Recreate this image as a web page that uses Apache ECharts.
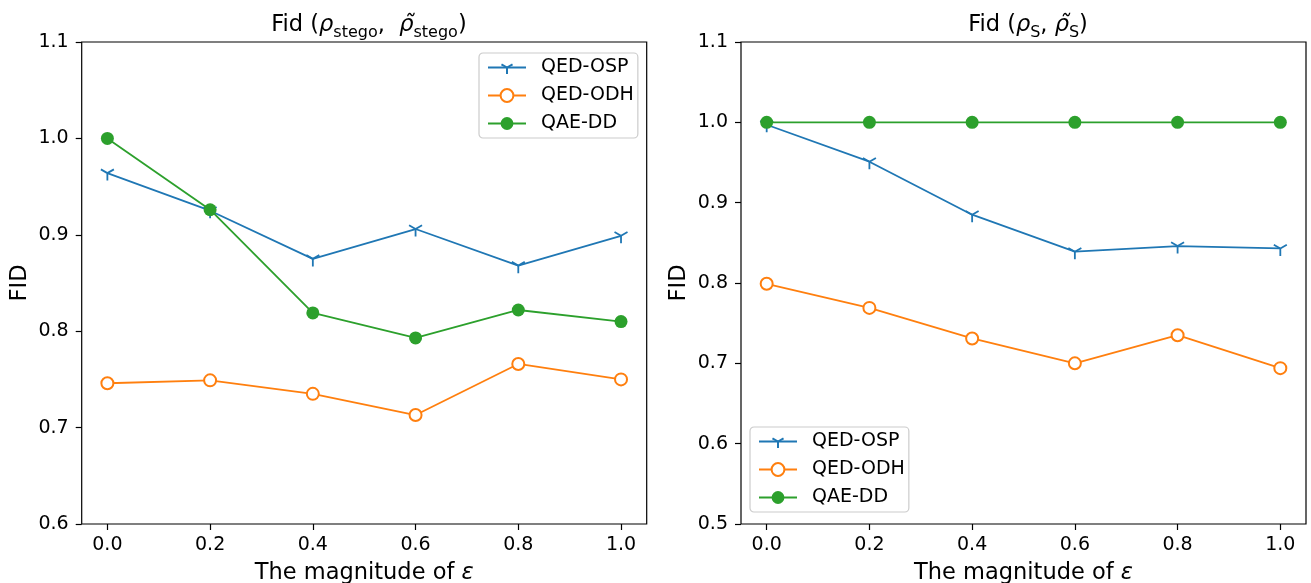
<!DOCTYPE html>
<html>
<head>
<meta charset="utf-8">
<script src="https://cdn.jsdelivr.net/npm/echarts@6/dist/echarts.min.js"></script>
<style>
html,body{margin:0;padding:0;background:#fff;}
#chart{width:1311px;height:583px;}
</style>
</head>
<body>
<div id="chart"></div>
<script>
// ---- data ----
const eps = [0.0, 0.2, 0.4, 0.6, 0.8, 1.0];
const xTicks = [0.0, 0.2, 0.4, 0.6, 0.8, 1.0];
const leftYTicks = [0.6, 0.7, 0.8, 0.9, 1.0, 1.1];
const rightYTicks = [0.5, 0.6, 0.7, 0.8, 0.9, 1.0, 1.1];
const seriesNames = ['QED-OSP', 'QED-ODH', 'QAE-DD'];
const leftOSP = [0.964, 0.925, 0.875, 0.906, 0.868, 0.899];
const leftODH = [0.746, 0.749, 0.735, 0.713, 0.766, 0.750];
const leftDD  = [1.000, 0.926, 0.819, 0.793, 0.822, 0.810];
const rightOSP = [0.997, 0.951, 0.885, 0.839, 0.846, 0.843];
const rightODH = [0.799, 0.769, 0.731, 0.700, 0.735, 0.694];
const rightDD  = [1.000, 1.000, 1.000, 1.000, 1.000, 1.000];

const FONT = 'DejaVu Sans';
const C = ['#1f77b4', '#ff7f0e', '#2ca02c'];
const TRI = 'path://M0,0L0,10M0,0L-8.66,-5M0,0L8.66,-5M-10,-10L-10,-10M10,10L10,10';

function pairs(ys) { return eps.map((x, i) => [x, ys[i]]); }

function mkSeries(name, ys, idx) {
  const k = seriesNames.indexOf(name);
  const base = {
    name: name, type: 'line', xAxisIndex: idx, yAxisIndex: idx,
    data: pairs(ys), animation: false, z: 2 + k,
    lineStyle: { color: C[k], width: 1.8 },
    emphasis: { disabled: true }
  };
  if (k === 0) {
    base.symbol = TRI; base.symbolSize = 15; base.symbolKeepAspect = true;
    base.itemStyle = { color: 'rgba(0,0,0,0)', borderColor: C[k], borderWidth: 1.8 };
  } else if (k === 1) {
    base.symbol = 'emptyCircle'; base.symbolSize = 12;
    base.itemStyle = { color: C[k], borderColor: C[k], borderWidth: 1.6 };
  } else {
    base.symbol = 'circle'; base.symbolSize = 13;
    base.itemStyle = { color: C[k], borderWidth: 0 };
  }
  return base;
}

function xAxisCfg(idx) {
  return {
    type: 'value', gridIndex: idx, min: -0.05, max: 1.05,
    axisLine: { show: false, onZero: false },
    axisTick: { show: true, customValues: xTicks, length: 6, lineStyle: { color: '#000', width: 1.2 } },
    axisLabel: { customValues: xTicks, formatter: v => v.toFixed(1), color: '#000', fontFamily: FONT, fontSize: 19, margin: 12 },
    splitLine: { show: false },
    name: 'The magnitude of {e|ε}', nameLocation: 'middle', nameGap: 38,
    nameTextStyle: { color: '#000', fontFamily: FONT, fontSize: 22.5,
      rich: { e: { fontFamily: FONT, fontStyle: 'italic', fontSize: 22.5, color: '#000' } } }
  };
}
function yAxisCfg(idx, ticks) {
  return {
    type: 'value', gridIndex: idx, min: ticks[0], max: ticks[ticks.length - 1], interval: 0.1,
    axisLine: { show: false, onZero: false },
    axisTick: { show: true, length: 6, lineStyle: { color: '#000', width: 1.2 } },
    axisLabel: { formatter: v => v.toFixed(1), color: '#000', fontFamily: FONT, fontSize: 19, margin: 13 },
    splitLine: { show: false },
    name: 'FID', nameLocation: 'middle', nameGap: 50, nameRotate: 90,
    nameTextStyle: { color: '#000', fontFamily: FONT, fontSize: 22.5 }
  };
}

const titleRich = {
  n: { fontFamily: FONT, fontSize: 22.5, fontWeight: 'normal', color: '#000' },
  r: { fontFamily: FONT, fontSize: 22.5, fontWeight: 'normal', fontStyle: 'italic', color: '#000' },
  s: { fontFamily: FONT, fontSize: 16, fontWeight: 'normal', color: '#000', verticalAlign: 'bottom', padding: [16, 0, 0, 0] }
};

function legendCfg(left, top) {
  return {
    data: seriesNames, orient: 'vertical', left: left, top: top,
    itemWidth: 38, itemHeight: 16, itemGap: 9,
    padding: [5, 4, 5, 8],
    backgroundColor: '#fff', borderColor: '#cccccc', borderWidth: 1.2, borderRadius: 4,
    textStyle: { fontFamily: FONT, fontSize: 19, color: '#000', padding: [0, 0, 0, 10] },
    selectedMode: false
  };
}

const chart = echarts.init(document.getElementById('chart'), null, { renderer: 'canvas' });
chart.setOption({
  backgroundColor: '#fff',
  animation: false,
  title: [
    { text: '{n|Fid (}{r|ρ}{s|stego}{n|,  }{r|ρ̃}{s|stego}{n|)}', left: 364, top: 4, textAlign: 'center',
      textStyle: { fontWeight: 'normal', rich: titleRich } },
    { text: '{n|Fid (}{r|ρ}{s|S}{n|, }{r|ρ̃}{s|S}{n|)}', left: 1023, top: 4, textAlign: 'center',
      textStyle: { fontWeight: 'normal', rich: titleRich } }
  ],
  grid: [
    { left: 81.7, right: 1311 - 646.7, top: 42, bottom: 583 - 524, show: true, borderColor: '#000', borderWidth: 1.2, backgroundColor: 'transparent', outerBoundsMode: 'none', containLabel: false },
    { left: 741, right: 1311 - 1306, top: 42, bottom: 583 - 524, show: true, borderColor: '#000', borderWidth: 1.2, backgroundColor: 'transparent', outerBoundsMode: 'none', containLabel: false }
  ],
  xAxis: [xAxisCfg(0), xAxisCfg(1)],
  yAxis: [yAxisCfg(0, leftYTicks), yAxisCfg(1, rightYTicks)],
  legend: [legendCfg(479, 53), legendCfg(750, 427)],
  series: [
    mkSeries('QED-OSP', leftOSP, 0),
    mkSeries('QED-ODH', leftODH, 0),
    mkSeries('QAE-DD', leftDD, 0),
    mkSeries('QED-OSP', rightOSP, 1),
    mkSeries('QED-ODH', rightODH, 1),
    mkSeries('QAE-DD', rightDD, 1)
  ]
});
</script>
</body>
</html>
